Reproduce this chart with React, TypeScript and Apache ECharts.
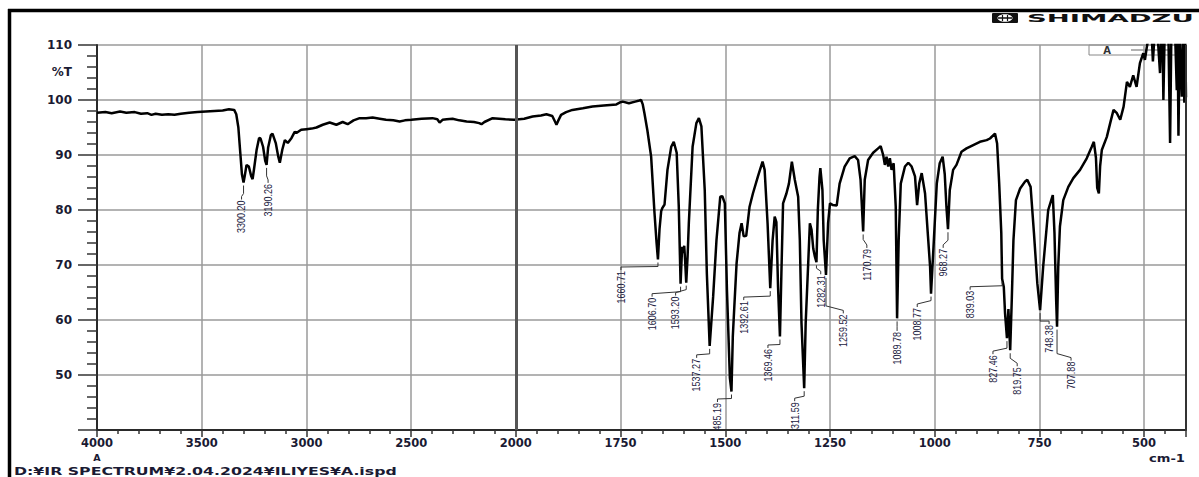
import React, { useEffect, useRef } from 'react';
import * as echarts from 'echarts';

// ---- Spectrum (wavenumber cm-1, %T) ----
const spectrumHigh: [number, number][] = [
  [4000, 97.7], [3960, 97.8], [3930, 97.6], [3890, 97.9], [3860, 97.7], [3820, 97.8], [3790, 97.5],
  [3760, 97.6], [3740, 97.3], [3720, 97.5], [3690, 97.3], [3660, 97.4], [3630, 97.3], [3600, 97.5],
  [3560, 97.7], [3520, 97.8], [3480, 97.9], [3440, 98.0], [3400, 98.1], [3370, 98.3], [3345, 98.2],
  [3335, 97.4], [3325, 95.0], [3316, 90.5], [3308, 86.5], [3300.2, 85.0], [3294, 86.3], [3286, 88.2],
  [3275, 87.9], [3264, 86.2], [3257, 85.6], [3250, 87.5], [3238, 90.9], [3226, 93.1], [3219, 93.0],
  [3207, 91.5], [3197, 89.0], [3190.26, 88.2], [3183, 91.3], [3170, 93.6], [3162, 93.9], [3146, 92.1],
  [3135, 89.8], [3127, 88.6], [3115, 91.0], [3103, 92.7], [3089, 92.2], [3071, 93.1], [3056, 94.2],
  [3048, 94.0], [3025, 94.6], [3000, 94.7], [2975, 94.8], [2952, 95.0], [2922, 95.5], [2889, 95.9],
  [2857, 95.5], [2827, 96.0], [2803, 95.6], [2775, 96.3], [2746, 96.7], [2715, 96.7], [2684, 96.8],
  [2650, 96.6], [2620, 96.4], [2585, 96.3], [2555, 96.1], [2530, 96.3], [2499, 96.4], [2450, 96.6],
  [2398, 96.7], [2375, 96.5], [2364, 95.9], [2350, 96.4], [2330, 96.5], [2302, 96.6], [2270, 96.3],
  [2235, 96.1], [2200, 96.0], [2175, 95.8], [2164, 95.6], [2150, 96.0], [2111, 96.7], [2080, 96.6],
  [2050, 96.5], [2007, 96.4],
];

const spectrumMid: [number, number][] = [
  [1980, 96.6], [1960, 97.0], [1940, 97.2], [1927, 97.4], [1913, 97.1], [1906, 96.0], [1903, 95.5],
  [1899, 96.2], [1892, 97.3], [1880, 97.8], [1865, 98.2], [1840, 98.5], [1817, 98.8], [1790, 99.0],
  [1760, 99.2], [1750, 99.6], [1745, 99.7], [1730, 99.4], [1715, 99.7], [1705, 99.9], [1701, 100.0],
  [1697, 99.2], [1693, 97.6], [1686, 94.5], [1677, 89.7], [1669, 79.5], [1664, 74.0], [1660.71, 71.0],
  [1657, 76.5], [1653, 79.8], [1650, 80.4], [1645, 81.0], [1638, 87.3], [1629, 91.5], [1623, 92.4],
  [1616, 90.4], [1611, 80.6], [1606.7, 66.6], [1603, 73.3], [1600, 72.2], [1598, 73.5], [1596, 71.0],
  [1593.2, 66.8], [1590, 71.5], [1587, 77.6], [1578, 91.5], [1569, 95.8], [1563, 96.7], [1557, 95.2],
  [1549, 83.6], [1544, 68.5], [1537.27, 55.3], [1529, 64.2], [1521, 74.5], [1512, 82.4], [1507, 82.5],
  [1501, 81.2], [1496, 65.5], [1489, 49.5], [1485.19, 47.0], [1482, 57.0], [1478, 63.0], [1473, 70.3],
  [1466, 75.8], [1461, 77.6], [1456, 75.2], [1450, 75.3], [1442, 80.6], [1434, 83.0], [1422, 86.1],
  [1411, 88.8], [1406, 87.3], [1399, 77.6], [1392.61, 65.8], [1387, 74.5], [1382, 78.8], [1378, 77.8],
  [1374, 66.0], [1369.46, 57.0], [1366, 68.5], [1362, 81.2], [1354, 83.0], [1348, 84.8], [1341, 88.8],
  [1334, 85.5], [1326, 82.4], [1322, 74.5], [1318, 59.4], [1311.59, 47.6], [1308, 59.5], [1302, 70.3],
  [1298, 77.6], [1294, 76.4], [1290, 73.0], [1286, 71.5], [1282.31, 70.5], [1279, 80.0], [1275, 86.0],
  [1273, 87.6], [1268, 83.6], [1265, 74.5], [1259.52, 68.2], [1254.5, 77.6], [1250, 81.2], [1243, 80.9],
  [1234, 80.8], [1227, 84.8], [1215, 87.9], [1203, 89.4], [1191, 89.8], [1183, 89.1], [1177, 85.5],
  [1170.79, 76.1], [1167, 85.5], [1159, 89.1], [1147, 90.4], [1135, 91.2], [1129, 91.6], [1123, 90.0],
  [1119, 88.2], [1115, 89.7], [1111, 87.9], [1107, 89.4], [1103, 87.3], [1098, 88.5], [1093, 80.6],
  [1089.78, 60.3], [1086, 74.5], [1081, 84.8], [1071, 87.9], [1063, 88.6], [1055, 87.9], [1047, 86.1],
  [1042, 80.9], [1037, 84.8], [1031, 86.7], [1023, 83.0], [1016, 75.2], [1011, 69.7], [1008.77, 64.8],
  [1002, 74.5],
];

const spectrumLow: [number, number][] = [
  [995, 84.8], [988, 88.5], [981, 89.7], [976, 86.5], [972, 80.6], [968.27, 76.5], [964, 83.6],
  [956, 87.3], [948, 88.2], [936, 90.6], [924, 91.2], [908, 91.8], [892, 92.4], [876, 92.7], [868, 93.0],
  [856, 93.9], [851, 92.1], [846, 84.8], [841, 75.8], [839.03, 67.5], [835, 66.0], [832, 61.2],
  [827.46, 56.7], [824, 62.0], [819.75, 54.5], [816, 63.6], [812, 74.5], [806, 81.8], [796, 83.9],
  [784, 85.2], [779, 85.5], [771, 84.2], [763, 75.8], [755, 66.7], [748.38, 61.8], [741, 69.7],
  [729, 80.0], [718, 82.7], [714, 75.8], [710, 63.6], [707.88, 58.8], [705, 69.7], [701, 77.0],
  [693, 81.8], [681, 84.2], [669, 85.8], [653, 87.3], [637, 89.4], [625, 91.5], [620, 92.4], [615, 89.5],
  [612, 84.0], [608, 83.0], [605, 88.0], [601, 90.9], [589, 93.3], [581, 95.8], [573, 98.2], [565, 97.6],
  [557, 96.4], [549, 98.8], [541, 103.3], [534, 102.4], [526, 104.5], [518, 102.4], [510, 106.7],
  [502, 108.5], [498, 107.3], [494, 109.4], [488, 112], [482, 112], [479, 107.0], [475, 112], [468, 112],
  [462, 104.9], [459, 112], [456, 112], [454, 100.0], [451, 112], [442, 112], [438, 92.2], [435, 112],
  [426, 112], [422, 101.8], [420, 112], [418, 93.5], [415, 112], [410, 100.6], [407, 112], [404, 99.5],
  [402, 112], [400, 100.5],
];

// ---- Peak picks ----
const peakWavenumbers = [
  3300.2, 3190.26, 1660.71, 1606.7, 1593.2, 1537.27, 1485.19, 1392.61, 1369.46, 1311.59, 1282.31,
  1259.52, 1170.79, 1089.78, 1008.77, 968.27, 839.03, 827.46, 819.75, 748.38, 707.88,
];
const peakTransmittance = [
  85.0, 88.2, 71.0, 66.6, 66.8, 55.3, 47.0, 65.8, 57.0, 47.6, 70.5, 68.2, 76.1, 60.3, 64.8, 76.5, 67.5,
  56.7, 54.5, 61.8, 58.8,
];
// label placement, pixel offsets from the peak tip: [dx, dy, leader drop]
const peakLabelLayout: [number, number, number][] = [
  [-2, 17, 8], [1.5, 18, 8], [-37, 10.5, 4], [-28.5, 13, 5], [-10.6, 13, 4], [-13, 12, 5], [-14, 10.5, 4],
  [-26.5, 12, 5], [-12, 11.5, 5], [-9.5, 13, 5], [4.3, 12, 3], [17.3, 38.5, 28], [3.7, 16.5, 5],
  [0, 12.6, 5], [-13.8, 13.4, 4], [-4.8, 18.6, 8], [-32, 11, 4], [-14, 16, 7], [7, 16, 5], [9, 14, 8],
  [14, 34, 24],
];

// ---- Axes ----
const xMajorWavenumbers = [4000, 3500, 3000, 2500, 2000, 1750, 1500, 1250, 1000, 750, 500];
const yMin = 40;
const yMax = 110;
const yStep = 10;

// Shimadzu-style split scale: 4000-2000 compressed 2:1 against 2000-400
function toAxis(w: number): number {
  return w >= 2000 ? (4000 - w) / 2 : 1000 + (2000 - w);
}
function fromAxis(u: number): number {
  return u <= 1000 ? 4000 - 2 * u : 3000 - u;
}

const labelFont = 'DejaVu Sans, Verdana, sans-serif';
const labelColor = '#1a1a33';

export default function App() {
  const ref = useRef<HTMLDivElement>(null);
  useEffect(() => {
    if (!ref.current) return;
    const chart = echarts.init(ref.current, undefined, { renderer: 'svg' });
    const spectrum = [...spectrumHigh, ...spectrumMid, ...spectrumLow].map(([w, t]) => [toAxis(w), t]);
    const majorSet = new Set(xMajorWavenumbers.map((w) => Math.round(toAxis(w))));

    const option: any = {
      animation: false,
      backgroundColor: '#ffffff',
      grid: { left: 97, top: 45, width: 1089, height: 385 },
      xAxis: {
        type: 'value',
        min: 0,
        max: toAxis(400),
        interval: 250,
        axisLine: { show: true, onZero: false, lineStyle: { color: '#2a2a2a', width: 2 } },
        axisTick: { show: true, length: 7, lineStyle: { color: '#333', width: 1.5 } },
        minorTick: { show: true, splitNumber: 5, length: 4, lineStyle: { color: '#333', width: 1.5 } },
        splitLine: { show: true, lineStyle: { color: '#9a9a9a', width: 1.5 } },
        axisLabel: {
          margin: 7,
          fontSize: 11.5,
          fontWeight: 'bold',
          fontFamily: labelFont,
          color: labelColor,
          formatter: (u: number) => (majorSet.has(Math.round(u)) ? String(fromAxis(u)) : ''),
        },
      },
      yAxis: {
        type: 'value',
        min: yMin,
        max: yMax,
        interval: yStep,
        axisLine: { show: true, lineStyle: { color: '#2a2a2a', width: 2 } },
        axisTick: { show: true, length: 19, lineStyle: { color: '#333', width: 1.5 } },
        minorTick: { show: true, splitNumber: 5, length: 10, lineStyle: { color: '#333', width: 1.5 } },
        splitLine: { show: true, lineStyle: { color: '#9a9a9a', width: 1.5 } },
        axisLabel: {
          margin: 25,
          fontSize: 12,
          fontWeight: 'bold',
          fontFamily: labelFont,
          color: labelColor,
          formatter: (v: number) => (v === yMin ? '' : String(v)),
        },
      },
      series: [
        {
          type: 'line',
          data: spectrum,
          showSymbol: false,
          symbol: 'none',
          clip: true,
          z: 3,
          lineStyle: { color: '#000', width: 2.5 },
          markLine: {
            silent: true,
            symbol: ['none', 'none'],
            label: { show: false },
            data: [
              { xAxis: toAxis(2000), lineStyle: { color: '#555', width: 3, type: 'solid' } },
              { xAxis: toAxis(400), lineStyle: { color: '#333', width: 2, type: 'solid' } },
            ],
          },
        },
        {
          type: 'custom',
          clip: true,
          z: 4,
          data: peakWavenumbers.map((w, i) => [toAxis(w), peakTransmittance[i], i]),
          renderItem: (_params: any, api: any) => {
            const idx = api.value(2);
            const p = api.coord([api.value(0), api.value(1)]);
            const px = p[0];
            const py = p[1];
            const [dx, dy, drop] = peakLabelLayout[idx];
            const tx = px + dx;
            const ty = py + dy;
            return {
              type: 'group',
              children: [
                {
                  type: 'polyline',
                  shape: { points: [[px, py + 3], [px, py + 3 + drop], [tx, ty - 3], [tx, ty]] },
                  style: { stroke: '#333', lineWidth: 1, fill: 'none' },
                },
                {
                  type: 'text',
                  x: tx,
                  y: ty + 1,
                  rotation: Math.PI / 2,
                  scaleX: 0.82,
                  style: {
                    text: peakWavenumbers[idx].toFixed(2),
                    fontSize: 11,
                    fontFamily: 'Liberation Sans, Arial, sans-serif',
                    fill: '#1a2040',
                    align: 'right',
                    verticalAlign: 'middle',
                  },
                },
              ],
            };
          },
        },
      ],
      graphic: [
        { type: 'line', shape: { x1: 8, y1: 10.5, x2: 1199, y2: 10.5 }, style: { stroke: '#000', lineWidth: 3.5 } },
        { type: 'line', shape: { x1: 9.5, y1: 9, x2: 9.5, y2: 477 }, style: { stroke: '#000', lineWidth: 3.5 } },
        // logo
        { type: 'rect', shape: { x: 992, y: 13, width: 26, height: 10, r: 1 }, style: { fill: '#111' } },
        { type: 'ellipse', shape: { cx: 1005, cy: 18, rx: 7.5, ry: 3.8 }, style: { fill: '#fff' } },
        { type: 'line', shape: { x1: 998, y1: 18, x2: 1012, y2: 18 }, style: { stroke: '#111', lineWidth: 1.5 } },
        { type: 'line', shape: { x1: 1002.5, y1: 15, x2: 1002.5, y2: 21 }, style: { stroke: '#111', lineWidth: 1.2 } },
        { type: 'line', shape: { x1: 1007.5, y1: 15, x2: 1007.5, y2: 21 }, style: { stroke: '#111', lineWidth: 1.2 } },
        {
          type: 'text', x: 1027, y: 18.5, scaleX: 2.5,
          style: { text: 'SHIMADZU', fontSize: 11, fontWeight: 'bold', fontFamily: 'DejaVu Sans', fill: '#111', verticalAlign: 'middle' },
        },
        // legend box
        { type: 'rect', shape: { x: 1089, y: 45, width: 88, height: 10 }, style: { fill: 'none', stroke: '#888', lineWidth: 1 } },
        {
          type: 'text', x: 1107, y: 50.5,
          style: { text: 'A', fontSize: 10, fontWeight: 'bold', fontFamily: labelFont, fill: '#333', align: 'center', verticalAlign: 'middle' },
        },
        { type: 'line', shape: { x1: 1131, y1: 50, x2: 1168, y2: 50 }, style: { stroke: '#999', lineWidth: 1.5 } },
        // axis captions
        {
          type: 'text', x: 72, y: 72,
          style: { text: '%T', fontSize: 12, fontWeight: 'bold', fontFamily: labelFont, fill: labelColor, align: 'right', verticalAlign: 'middle' },
        },
        {
          type: 'text', x: 97, y: 457,
          style: { text: 'A', fontSize: 9.5, fontWeight: 'bold', fontFamily: labelFont, fill: labelColor, align: 'center', verticalAlign: 'middle' },
        },
        {
          type: 'text', x: 1185, y: 458, scaleX: 1.25,
          style: { text: 'cm-1', fontSize: 10.5, fontWeight: 'bold', fontFamily: labelFont, fill: labelColor, align: 'right', verticalAlign: 'middle' },
        },
        {
          type: 'text', x: 14, y: 471, scaleX: 1.5,
          style: { text: 'D:¥IR SPECTRUM¥2.04.2024¥ILIYES¥A.ispd', fontSize: 10.5, fontWeight: 'bold', fontFamily: labelFont, fill: labelColor, verticalAlign: 'middle' },
        },
      ],
    };
    chart.setOption(option);
    return () => chart.dispose();
  }, []);
  return (
    <div
      ref={ref}
      style={{ position: 'fixed', left: 0, top: 0, width: 1199, height: 477, background: '#fff' }}
    />
  );
}
